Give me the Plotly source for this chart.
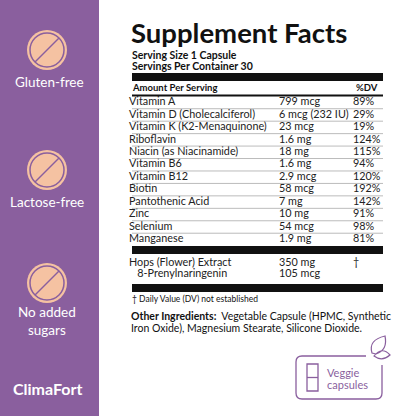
import plotly.graph_objects as go

nutrients = ["Vitamin A", "Vitamin D (Cholecalciferol)", "Vitamin K (K2-Menaquinone)", "Riboflavin",
             "Niacin (as Niacinamide)", "Vitamin B6", "Vitamin B12", "Biotin", "Pantothenic Acid",
             "Zinc", "Selenium", "Manganese"]
amounts = ["799 mcg", "6 mcg (232 IU)", "23 mcg", "1.6 mg", "18 mg", "1.6 mg", "2.9 mcg", "58 mcg",
           "7 mg", "10 mg", "54 mcg", "1.9 mg"]
dv = ["89%", "29%", "19%", "124%", "115%", "94%", "120%", "192%", "142%", "91%", "98%", "81%"]
extra_names = ["Hops (Flower) Extract", "   8-Prenylnaringenin"]
extra_amounts = ["350 mg", "105 mcg"]
extra_dv = ["†", ""]

PURPLE = "#8a5f9e"
PEACH = "#f5c2a2"
FONT = "Lato"

fig = go.Figure()
y0, step = 102.5, 12.45
ys = [y0 + i * step for i in range(len(nutrients))]
ey = [263, 274.5]

def txt(x, y, t, size=10.8, color="#222"):
    fig.add_trace(go.Scatter(x=[x] * len(y), y=y, text=t, mode="text", textposition="middle right",
                             textfont=dict(size=size, color=color, family=FONT),
                             hoverinfo="skip", showlegend=False))

txt(129, ys, nutrients)
txt(279, ys, amounts)
txt(353, ys, dv)
txt(129, ey, extra_names)
txt(279, ey, extra_amounts)
txt(353, ey, extra_dv)

shapes = []
shapes.append(dict(type="rect", x0=0, x1=99, y0=0, y1=416, fillcolor=PURPLE, line_width=0, layer="below"))
for cy in [50, 170, 283]:
    shapes.append(dict(type="circle", x0=47 - 20, x1=47 + 20, y0=cy - 20, y1=cy + 20,
                       fillcolor=PEACH, line=dict(color=PEACH, width=0)))
    shapes.append(dict(type="circle", x0=47 - 17, x1=47 + 17, y0=cy - 17, y1=cy + 17,
                       line=dict(color=PURPLE, width=1.5)))
    shapes.append(dict(type="line", x0=35, x1=59, y0=cy + 12, y1=cy - 12, line=dict(color=PURPLE, width=1.5)))
for a_, b_ in [(73, 81), (246, 254), (284, 292)]:
    shapes.append(dict(type="rect", x0=132, x1=383, y0=a_, y1=b_, fillcolor="#111", line_width=0))
shapes.append(dict(type="rect", x0=132, x1=383, y0=94.5, y1=96.5, fillcolor="#111", line_width=0))
for y in ys[:-1]:
    shapes.append(dict(type="line", x0=132, x1=383, y0=y + step / 2, y1=y + step / 2,
                       line=dict(color="#aaa", width=0.8)))
shapes.append(dict(type="path", path="M 302 356 L 366 356 M 382 365 L 382 393 Q 382 399 376 399 L 302 399 Q 296 399 296 393 L 296 362 Q 296 356 302 356",
                   line=dict(color=PURPLE, width=1.3)))
shapes.append(dict(type="rect", x0=307, x1=318, y0=364, y1=391, line=dict(color=PURPLE, width=1.3)))
shapes.append(dict(type="line", x0=307, x1=318, y0=377.5, y1=377.5, line=dict(color=PURPLE, width=1.3)))
shapes.append(dict(type="path", path="M 372 353 Q 368 340 385 336 Q 388 350 376 354 Z M 374 356 Q 382 346 390 355 Q 382 362 374 356 Z",
                   line=dict(color=PURPLE, width=1.2)))

ann = []
def a(x, y, t, size, color="#111", xanchor="left", bold=False):
    ann.append(dict(x=x, y=y, text=f"<b>{t}</b>" if bold else t, showarrow=False, xanchor=xanchor, yanchor="middle",
                    font=dict(size=size, color=color, family=FONT)))

a(129, 32, "Supplement Facts", 27.5, bold=True)
a(130, 55, "Serving Size 1 Capsule", 10.5, bold=True)
a(130, 66, "Servings Per Container 30", 10.5, bold=True)
a(130, 87.5, "Amount Per Serving", 9.5, bold=True)
a(354, 87.5, "%DV", 9.5, bold=True)
a(130, 299, "† Daily Value (DV) not established", 8.5)
a(129, 316, "<b>Other Ingredients:</b>  Vegetable Capsule (HPMC, Synthetic", 10.5)
a(129, 328, "Iron Oxide), Magnesium Stearate, Silicone Dioxide.", 10.5)
a(325, 372, "Veggie", 11, color=PURPLE)
a(325, 384, "capsules", 11, color=PURPLE)
a(49, 82, "Gluten-free", 13.5, color="white", xanchor="center")
a(47, 202, "Lactose-free", 13.5, color="white", xanchor="center")
a(47, 321, "No added<br>sugars", 13.5, color="white", xanchor="center")
a(47, 388, "ClimaFort", 16, color="white", xanchor="center", bold=True)

fig.update_layout(width=416, height=416, margin=dict(l=0, r=0, t=0, b=0),
                  paper_bgcolor="white", plot_bgcolor="white", shapes=shapes, annotations=ann,
                  xaxis=dict(range=[0, 416], visible=False, fixedrange=True),
                  yaxis=dict(range=[416, 0], visible=False, fixedrange=True))
fig.write_html("out.html", config={"displayModeBar": False},
               post_script="document.body.style.margin='0';document.body.style.overflow='hidden';")
